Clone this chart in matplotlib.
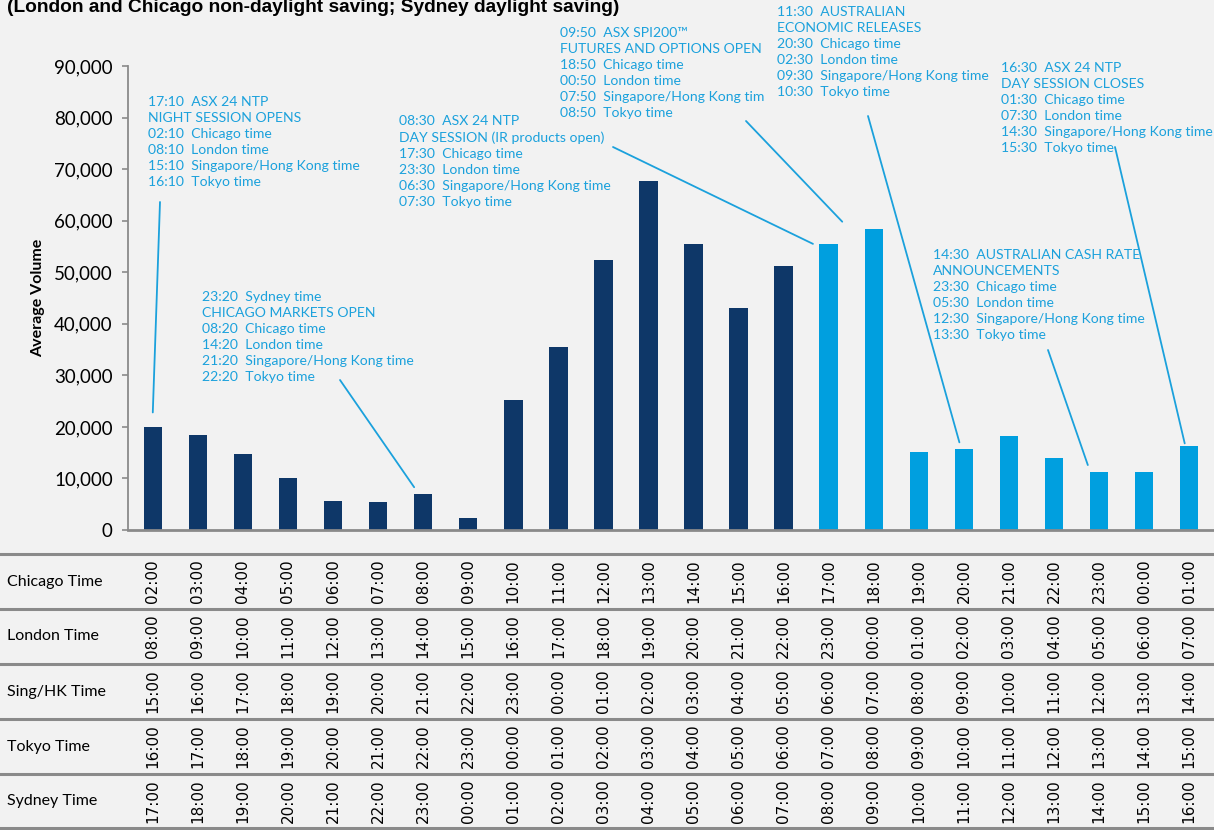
import numpy as np
import matplotlib.pyplot as plt
from matplotlib import transforms
from matplotlib.lines import Line2D
from matplotlib.ticker import FuncFormatter

# hourly average volume, Chicago 02:00 .. 01:00
volume = [20000, 18400, 14800, 10000, 5700, 5400, 6900, 2300, 25200, 35500,
          52400, 67700, 55400, 43100, 51200, 55500, 58400, 15100, 15700, 18200,
          13900, 11200, 11200, 16300]
n_night = 15  # first bars belong to the night session

chicago = ['02:00', '03:00', '04:00', '05:00', '06:00', '07:00', '08:00', '09:00',
           '10:00', '11:00', '12:00', '13:00', '14:00', '15:00', '16:00', '17:00',
           '18:00', '19:00', '20:00', '21:00', '22:00', '23:00', '00:00', '01:00']
london = ['08:00', '09:00', '10:00', '11:00', '12:00', '13:00', '14:00', '15:00',
          '16:00', '17:00', '18:00', '19:00', '20:00', '21:00', '22:00', '23:00',
          '00:00', '01:00', '02:00', '03:00', '04:00', '05:00', '06:00', '07:00']
sing_hk = ['15:00', '16:00', '17:00', '18:00', '19:00', '20:00', '21:00', '22:00',
           '23:00', '00:00', '01:00', '02:00', '03:00', '04:00', '05:00', '06:00',
           '07:00', '08:00', '09:00', '10:00', '11:00', '12:00', '13:00', '14:00']
tokyo = ['16:00', '17:00', '18:00', '19:00', '20:00', '21:00', '22:00', '23:00',
         '00:00', '01:00', '02:00', '03:00', '04:00', '05:00', '06:00', '07:00',
         '08:00', '09:00', '10:00', '11:00', '12:00', '13:00', '14:00', '15:00']
sydney = ['17:00', '18:00', '19:00', '20:00', '21:00', '22:00', '23:00', '00:00',
          '01:00', '02:00', '03:00', '04:00', '05:00', '06:00', '07:00', '08:00',
          '09:00', '10:00', '11:00', '12:00', '13:00', '14:00', '15:00', '16:00']
row_names = ['Chicago Time', 'London Time', 'Sing/HK Time', 'Tokyo Time', 'Sydney Time']
rows = [chicago, london, sing_hk, tokyo, sydney]

title = '(London and Chicago non-daylight saving; Sydney daylight saving)'

# annotation texts
note_night_open = ('17:10  ASX 24 NTP\nNIGHT SESSION OPENS\n02:10  Chicago time\n'
                   '08:10  London time\n15:10  Singapore/Hong Kong time\n16:10  Tokyo time')
note_chicago = ('23:20  Sydney time\nCHICAGO MARKETS OPEN\n08:20  Chicago time\n'
                '14:20  London time\n21:20  Singapore/Hong Kong time\n22:20  Tokyo time')
note_day = ('08:30  ASX 24 NTP\nDAY SESSION (IR products open)\n17:30  Chicago time\n'
            '23:30  London time\n06:30  Singapore/Hong Kong time\n07:30  Tokyo time')
note_spi = ('09:50  ASX SPI200\u2122\nFUTURES AND OPTIONS OPEN\n18:50  Chicago time\n'
            '00:50  London time\n07:50  Singapore/Hong Kong tim\n08:50  Tokyo time')
note_econ = ('11:30  AUSTRALIAN\nECONOMIC RELEASES\n20:30  Chicago time\n'
             '02:30  London time\n09:30  Singapore/Hong Kong time\n10:30  Tokyo time')
note_close = ('16:30  ASX 24 NTP\nDAY SESSION CLOSES\n01:30  Chicago time\n'
              '07:30  London time\n14:30  Singapore/Hong Kong time\n15:30  Tokyo time')
note_cash = ('14:30  AUSTRALIAN CASH RATE\nANNOUNCEMENTS\n23:30  Chicago time\n'
             '05:30  London time\n12:30  Singapore/Hong Kong time\n13:30  Tokyo time')

navy = '#0e3768'
light = '#009fdf'
note_col = '#1ba1dc'
grey = '#8a8a8a'
bg = '#f2f2f2'

W, H = 1214, 830
fig = plt.figure(figsize=(W / 100, H / 100), dpi=100, facecolor=bg)
ax = fig.add_axes([128 / W, 1 - 530 / H, (W - 128) / W, (530 - 66) / H])
ax.set_facecolor(bg)

x = np.arange(len(volume))
colors = [navy if i < n_night else light for i in range(len(volume))]
ax.bar(x, volume, width=0.41, color=colors, zorder=2)
ax.set_xlim(-0.55, len(volume) - 0.45)
ax.set_ylim(0, 90000)
ax.set_yticks(np.arange(0, 90001, 10000))
ax.yaxis.set_major_formatter(FuncFormatter(lambda v, p: f'{int(v):,}'))
ax.set_xticks([])
for s in ['top', 'right']:
    ax.spines[s].set_visible(False)
ax.spines['left'].set_color(grey)
ax.spines['left'].set_linewidth(1.3)
ax.spines['bottom'].set_color(grey)
ax.spines['bottom'].set_linewidth(2)
ax.tick_params(axis='y', length=4, width=1.2, color=grey, pad=7)
for lab in ax.get_yticklabels():
    lab.set_fontfamily('Lato')
    lab.set_fontsize(13.5)

fig.text(7 / W, 1 - 7 / H, title, fontsize=13.8, fontweight='bold',
         family='Liberation Sans', ha='left', va='center')
fig.text(38 / W, 1 - 298 / H, 'Average Volume', rotation=90, fontsize=11.5,
         fontweight='bold', family='Lato', ha='center', va='center')

# annotations: text block top-left in image pixels, leader from text to bar
notes = [
    (note_night_open, 148, 96, (160, 202), 0, 22800),
    (note_chicago, 202, 291, (340, 380), 5.8, 8300),
    (note_day, 399, 115, (613, 147), 14.65, 55500),
    (note_spi, 560, 27, (746, 121), 15.3, 59800),
    (note_econ, 777, 6, (868, 116), 17.9, 17000),
    (note_close, 1001, 62, (1115, 147), 22.9, 16800),
    (note_cash, 933, 249, (1048, 350), 20.75, 12600),
]
for txt, tx, ty, start, bx, by in notes:
    fig.text(tx / W, 1 - ty / H, txt, fontsize=10.1, family='Lato', color=note_col,
             ha='left', va='top', linespacing=1.4)
    ax.annotate('', xy=(bx, by), xycoords='data',
                xytext=(start[0], H - start[1]), textcoords='figure pixels',
                arrowprops=dict(arrowstyle='-', color=note_col, lw=1.3,
                                shrinkA=0, shrinkB=0),
                annotation_clip=False)

# time table under the chart
trans = transforms.blended_transform_factory(ax.transData, fig.transFigure)
line_y = [554, 609, 664, 719, 774, 828]
for y in line_y:
    fig.add_artist(Line2D([0, 1], [1 - y / H, 1 - y / H], transform=fig.transFigure,
                          color=grey, lw=2.2))
for r, (name, labels) in enumerate(zip(row_names, rows)):
    yc = 1 - (line_y[r] + line_y[r + 1]) / 2 / H
    fig.text(7 / W, yc, name, fontsize=11.5, family='Lato', ha='left', va='center')
    for i, lab in enumerate(labels):
        fig.text(i, yc, lab, transform=trans, rotation=90, fontsize=11,
                 family='DejaVu Sans', ha='center', va='center')

fig.savefig('out.png', dpi=100, facecolor=bg)
